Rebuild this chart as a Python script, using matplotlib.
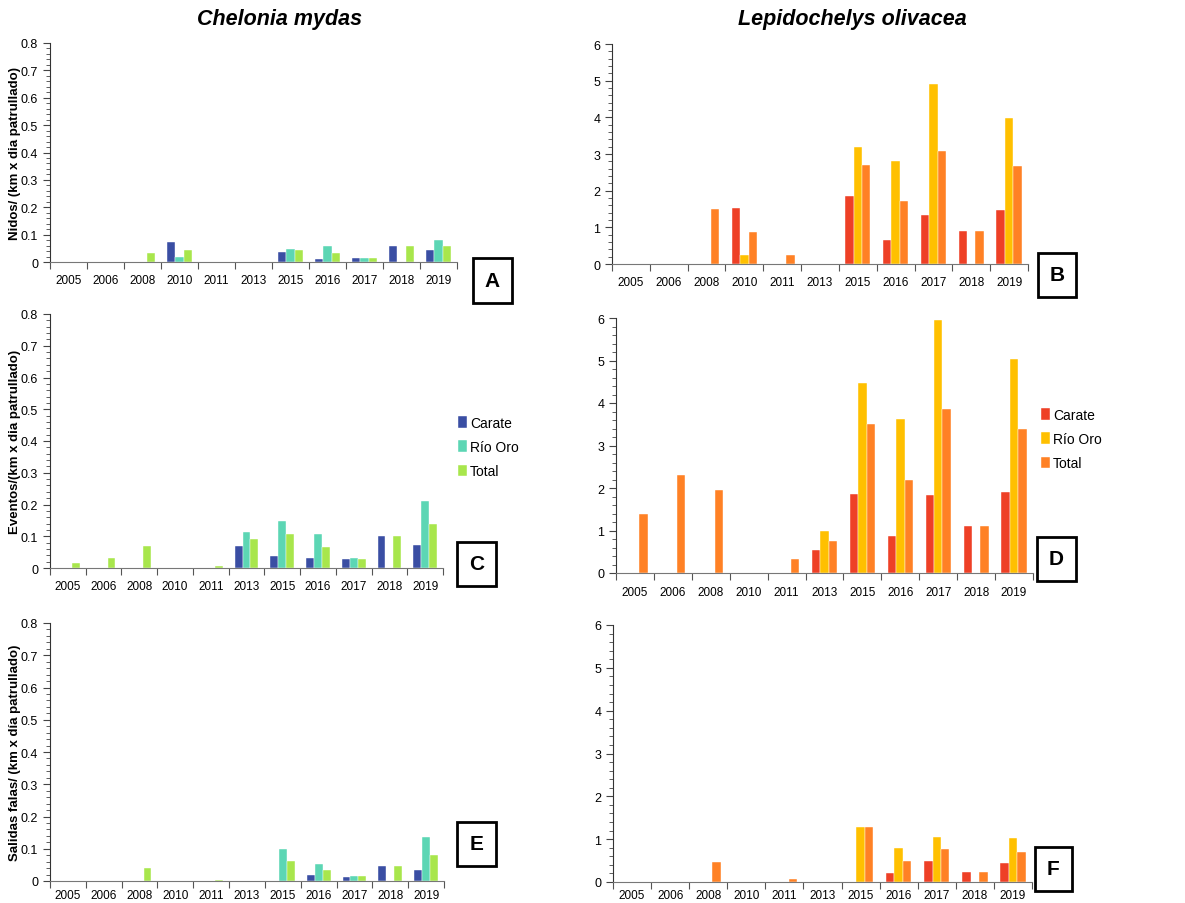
import numpy as np
import matplotlib
matplotlib.use('Agg')
import matplotlib.pyplot as plt
from matplotlib.patches import Rectangle
from matplotlib.ticker import MultipleLocator

plt.rcParams['font.family'] = ['Liberation Sans', 'DejaVu Sans']

years = ['2005', '2006', '2008', '2010', '2011', '2013', '2015', '2016', '2017', '2018', '2019']
series = ['Carate', 'Río Oro', 'Total']

# Chelonia mydas
cm_nidos_carate = [0, 0, 0, 0.073, 0, 0, 0.035, 0.010, 0.016, 0.059, 0.044]
cm_nidos_rio = [0, 0, 0, 0.018, 0, 0, 0.046, 0.059, 0.016, 0, 0.079]
cm_nidos_total = [0, 0, 0.032, 0.043, 0.001, 0, 0.043, 0.032, 0.016, 0.059, 0.059]

cm_eventos_carate = [0, 0, 0, 0, 0, 0.070, 0.037, 0.032, 0.027, 0.102, 0.074]
cm_eventos_rio = [0, 0, 0, 0, 0, 0.114, 0.147, 0.107, 0.030, 0, 0.210]
cm_eventos_total = [0.015, 0.033, 0.070, 0, 0.007, 0.090, 0.107, 0.067, 0.027, 0.101, 0.139]

cm_salidas_carate = [0, 0, 0, 0, 0, 0, 0, 0.020, 0.013, 0.046, 0.035]
cm_salidas_rio = [0, 0, 0, 0, 0, 0, 0.100, 0.052, 0.015, 0, 0.136]
cm_salidas_total = [0, 0, 0.041, 0, 0.003, 0, 0.063, 0.034, 0.015, 0.046, 0.081]

# Lepidochelys olivacea
lo_nidos_carate = [0, 0, 0, 1.53, 0, 0, 1.85, 0.66, 1.34, 0.89, 1.48]
lo_nidos_rio = [0, 0, 0, 0.24, 0, 0, 3.20, 2.82, 4.91, 0, 3.98]
lo_nidos_total = [0, 0, 1.51, 0.86, 0.24, 0, 2.70, 1.71, 3.09, 0.89, 2.67]

lo_eventos_carate = [0, 0, 0, 0, 0, 0.54, 1.85, 0.86, 1.83, 1.11, 1.91]
lo_eventos_rio = [0, 0, 0, 0, 0, 0.99, 4.48, 3.62, 5.96, 0, 5.03]
lo_eventos_total = [1.40, 2.30, 1.95, 0, 0.33, 0.75, 3.51, 2.19, 3.86, 1.11, 3.39]

lo_salidas_carate = [0, 0, 0, 0, 0, 0, 0, 0.21, 0.50, 0.23, 0.44]
lo_salidas_rio = [0, 0, 0, 0, 0, 0, 1.29, 0.80, 1.06, 0, 1.03]
lo_salidas_total = [0, 0, 0.46, 0, 0.08, 0, 1.29, 0.48, 0.78, 0.23, 0.71]

cm_colors = ['#3a4ea3', '#5cd6b4', '#a8e64c']
lo_colors = ['#ee4026', '#ffc000', '#ff8125']

fig = plt.figure(figsize=(11.85, 9.04), dpi=100)

W, H = 1185, 904


def px_axes(x0, y0, x1, y1):
    # axes from pixel box (top-left origin)
    return fig.add_axes([x0 / W, 1 - y1 / H, (x1 - x0) / W, (y1 - y0) / H])


def draw_panel(ax, data, colors, ymax, major, minor, ylabel=None, xpad=9):
    x = np.arange(len(years)) + 0.5
    w = 0.222
    for i, (vals, c) in enumerate(zip(data, colors)):
        ax.bar(x + (i - 1) * w, vals, w, color=c, label=series[i],
               edgecolor='white', linewidth=0.3)
    ax.set_xlim(0, len(years))
    ax.set_ylim(0, ymax)
    ax.set_xticks(np.arange(len(years) + 1))
    ax.set_xticklabels([])
    ax.set_xticks(x, minor=True)
    ax.set_xticklabels(years, minor=True, fontsize=8.5)
    ax.tick_params(axis='x', which='major', direction='out', length=5, color='#555555')
    ax.tick_params(axis='x', which='minor', length=0, pad=xpad)
    ax.yaxis.set_major_locator(MultipleLocator(major))
    ax.yaxis.set_minor_locator(MultipleLocator(minor))
    ax.tick_params(axis='y', which='major', length=5, labelsize=9, color='#444444')
    ax.tick_params(axis='y', which='minor', length=3, color='#444444')
    if major < 1:
        ax.set_yticks(np.round(np.arange(0, ymax + 1e-9, major), 1))
        ax.set_yticklabels(['0'] + ['%.1f' % v for v in np.arange(major, ymax + 1e-9, major)])
    for s in ['top', 'right']:
        ax.spines[s].set_visible(False)
    ax.spines['left'].set_color('#333333')
    ax.spines['bottom'].set_color('#777777')
    if ylabel:
        ax.set_ylabel(ylabel, fontsize=9.5, fontweight='bold', labelpad=0)


def letter_box(x0, y0, x1, y1, letter):
    fig.add_artist(Rectangle((x0 / W, 1 - y1 / H), (x1 - x0) / W, (y1 - y0) / H,
                             transform=fig.transFigure, fill=False,
                             edgecolor='black', linewidth=2))
    fig.text((x0 + x1) / 2 / W, 1 - (y0 + y1) / 2 / H, letter, ha='center', va='center',
             fontsize=15, fontweight='bold')


axA = px_axes(50, 44, 457, 263)
draw_panel(axA, [cm_nidos_carate, cm_nidos_rio, cm_nidos_total], cm_colors, 0.8, 0.1, 0.02,
           'Nidos/ (km x dia patrullado)')
axC = px_axes(50, 315, 443, 569)
draw_panel(axC, [cm_eventos_carate, cm_eventos_rio, cm_eventos_total], cm_colors, 0.8, 0.1, 0.02,
           'Eventos/(km x dia patrullado)')
axE = px_axes(50, 624, 444, 882)
draw_panel(axE, [cm_salidas_carate, cm_salidas_rio, cm_salidas_total], cm_colors, 0.8, 0.1, 0.02,
           'Salidas falas/ (km x día patrullado)', xpad=6)

axB = px_axes(612, 45, 1028, 265)
draw_panel(axB, [lo_nidos_carate, lo_nidos_rio, lo_nidos_total], lo_colors, 6, 1, 0.2)
axD = px_axes(616, 319, 1033, 574)
draw_panel(axD, [lo_eventos_carate, lo_eventos_rio, lo_eventos_total], lo_colors, 6, 1, 0.2)
axF = px_axes(613, 626, 1032, 883)
draw_panel(axF, [lo_salidas_carate, lo_salidas_rio, lo_salidas_total], lo_colors, 6, 1, 0.2,
           xpad=5)

for ax, (lx, ly) in [(axC, (458, 448)), (axD, (1041, 440))]:
    h, l = ax.get_legend_handles_labels()
    fig.legend(h, l, loc='center left', bbox_to_anchor=(lx / W, 1 - ly / H),
               frameon=False, fontsize=10, handlelength=0.65, handleheight=0.9,
               handletextpad=0.2, labelspacing=0.75, borderpad=0, borderaxespad=0)

letter_box(473, 259, 512, 304, 'A')
letter_box(1038, 254, 1076, 298, 'B')
letter_box(457, 543, 496, 587, 'C')
letter_box(1037, 538, 1076, 582, 'D')
letter_box(457, 823, 496, 867, 'E')
letter_box(1035, 848, 1072, 892, 'F')

fig.text(280 / W, 1 - 19 / H, 'Chelonia mydas', ha='center', va='center',
         fontsize=15.5, fontweight='bold', fontstyle='italic')
fig.text(852 / W, 1 - 19 / H, 'Lepidochelys olivacea', ha='center', va='center',
         fontsize=15.5, fontweight='bold', fontstyle='italic')

fig.savefig('out.png', dpi=100)
